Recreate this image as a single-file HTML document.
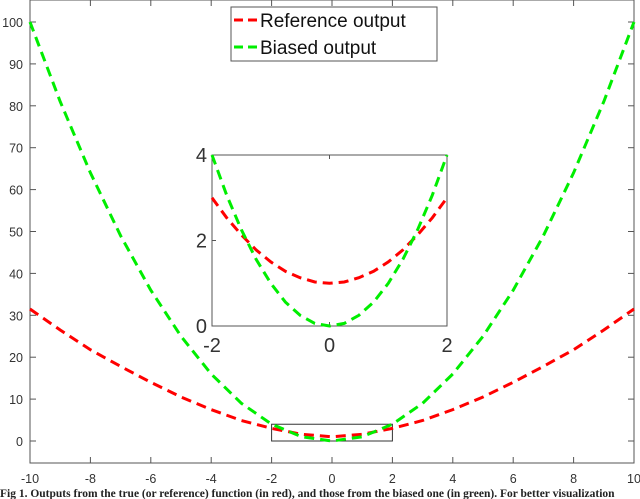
<!DOCTYPE html>
<html><head><meta charset="utf-8"><style>
html,body{margin:0;padding:0;background:#fff;width:640px;height:499px;overflow:hidden}
svg text{font-family:"Liberation Sans",sans-serif}
svg text.cap{font-family:"Liberation Serif",serif}
</style></head><body>
<svg id="c" width="640" height="499" xmlns="http://www.w3.org/2000/svg"></svg>
<script>
const xCats=[-10,-9,-8,-7,-6,-5,-4,-3,-2,-1,0,1,2,3,4,5,6,7,8,9,10];
const refVals=[31.5,26.5,21.8,17.8,14,10.5,7.5,4.9,3,1.6,1,1.6,3,4.9,7.5,10.5,14,17.8,21.8,26.5,31.5];
const biasVals=[100,81,64,49,36,25,16,9,4,1,0,1,4,9,16,25,36,49,64,81,100];
const insetX=[-2,-1.75,-1.5,-1.25,-1,-0.75,-0.5,-0.25,0,0.25,0.5,0.75,1,1.25,1.5,1.75,2];
const insetRef=[3,2.53,2.13,1.78,1.5,1.28,1.13,1.03,1,1.03,1.13,1.28,1.5,1.78,2.13,2.53,3];
const insetBias=[4,3.06,2.25,1.56,1,0.56,0.25,0.06,0,0.06,0.25,0.56,1,1.56,2.25,3.06,4];
const xTicks=[-10,-8,-6,-4,-2,0,2,4,6,8,10];
const yTicks=[0,10,20,30,40,50,60,70,80,90,100];
const insetXTicks=[-2,0,2];
const insetYTicks=[0,2,4];

const NS="http://www.w3.org/2000/svg";
const svg=document.getElementById('c');
function mk(t,a,p){const e=document.createElementNS(NS,t);for(const k in a)e.setAttribute(k,a[k]);(p||svg).appendChild(e);return e;}
const L=30,R=634,T=0,B=463;
const sx=v=>L+(v+10)/20*(R-L);
const sy=v=>441-v*4.19;
let ax=mk('rect',{x:L,y:T,width:R-L,height:B-T,fill:'none',stroke:'#555','stroke-width':1});


xTicks.forEach(v=>{
  const l=mk('line',{x1:sx(v),x2:sx(v),y1:B,y2:B-6,stroke:'#555'});
  
  
  mk('line',{x1:sx(v),x2:sx(v),y1:T,y2:T+6,stroke:'#555'});
  const t=mk('text',{x:sx(v),y:B+20,'text-anchor':'middle','font-size':12.5,fill:'#333'});
  t.textContent=v;
  
  
});
yTicks.forEach(v=>{
  const l=mk('line',{x1:L,x2:L+6,y1:sy(v),y2:sy(v),stroke:'#555'});
  
  
  mk('line',{x1:R,x2:R-6,y1:sy(v),y2:sy(v),stroke:'#555'});
  const t=mk('text',{x:L-7,y:sy(v)+5,'text-anchor':'end','font-size':12.5,fill:'#333'});
  t.textContent=v;
  
  
});
function path(xs,ys,fx,fy,col,name){
  const d=xs.map((x,i)=>(i?'L':'M')+fx(x).toFixed(1)+' '+fy(ys[i]).toFixed(1)).join(' ');
  const p=mk('path',{d:d,fill:'none',stroke:col,'stroke-width':3,'stroke-dasharray':'10 6'});
  
  
}
let zb=mk('rect',{x:sx(-2),y:sy(4),width:sx(2)-sx(-2),height:sy(0)-sy(4),fill:'none',stroke:'#333'});


path(xCats,refVals,sx,sy,'#ff0000','reference-output-line');
path(xCats,biasVals,sx,sy,'#00ee00','biased-output-line');
const IL=212,IR=447,IT=155,IB=326;
const ix=v=>IL+(v+2)/4*(IR-IL);
const iy=v=>IB-v/4*(IB-IT);
let ib=mk('rect',{x:IL,y:IT,width:IR-IL,height:IB-IT,fill:'#fff',stroke:'#555'});


insetXTicks.forEach(v=>{
  mk('line',{x1:ix(v),x2:ix(v),y1:IB,y2:IB-4,stroke:'#555'});
  mk('line',{x1:ix(v),x2:ix(v),y1:IT,y2:IT+4,stroke:'#555'});
  const t=mk('text',{x:ix(v),y:IB+26,'text-anchor':'middle','font-size':20,fill:'#333'});
  t.textContent=v;
  
  
});
insetYTicks.forEach(v=>{
  mk('line',{x1:IL,x2:IL+4,y1:iy(v),y2:iy(v),stroke:'#555'});
  const t=mk('text',{x:IL-5,y:iy(v)+7,'text-anchor':'end','font-size':20,fill:'#333'});
  t.textContent=v;
  
  
});
path(insetX,insetRef,ix,iy,'#ff0000','inset-reference-line');
path(insetX,insetBias,ix,iy,'#00ee00','inset-biased-line');
const lg=mk('g',{});


mk('rect',{x:231,y:7,width:206,height:54,fill:'#fff',stroke:'#555'},lg);
[['Reference output','#ff0000',27],['Biased output','#00ee00',54]].forEach(([s,c,y])=>{
  const g=mk('g',{},lg);
  
  
  mk('line',{x1:234,x2:260,y1:y-7,y2:y-7,stroke:c,'stroke-width':3,'stroke-dasharray':'9 5'},g);
  const t=mk('text',{x:260,y:y,'font-size':19,fill:'#111'},g);
  t.textContent=s;
});
const cap=mk('text',{x:0,y:497,'font-size':11.5,fill:'#222','font-weight':'bold','class':'cap'});
cap.textContent='Fig 1. Outputs from the true (or reference) function (in red), and those from the biased one (in green). For better visualization';


</script>
</body></html>
